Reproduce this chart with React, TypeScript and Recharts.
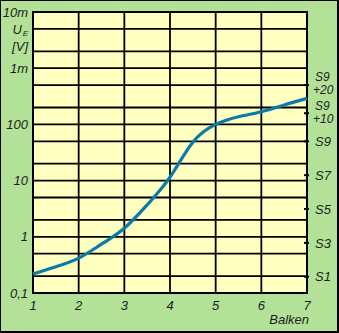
import React from "react";
import { LineChart, Line, XAxis, YAxis, ReferenceArea, ReferenceLine } from "recharts";

// Balken (bar count) vs. input voltage U_E, log scale in µV
const balken = [1, 1.5, 2, 2.5, 3, 3.5, 4, 4.5, 5, 5.5, 6, 6.5, 7];
const ue = [0.217, 0.293, 0.417, 0.74, 1.42, 3.7, 11.5, 48, 100, 137, 168, 221, 290];

const xTicks = [1, 2, 3, 4, 5, 6, 7];
const yTicks = [0.1, 1, 10, 100, 1000, 10000];
const yTickLabels = ["0,1", "1", "10", "100", "1m", "10m"];
const yGrid = [0.2, 0.5, 1, 2, 5, 10, 20, 50, 100, 200, 500, 1000, 2000, 5000];

// S-meter scale: S9 = 50 µV, one S-unit = 6 dB
const sTicks = [0.195, 0.39, 0.78, 1.56, 3.125, 6.25, 12.5, 25, 50, 158, 500];
const sLabels = ["S1", "", "S3", "", "S5", "", "S7", "", "S9", "S9|+10", "S9|+20"];

const data = balken.map((b, i) => ({ x: b, u: ue[i] }));

const FONT = '"Liberation Sans", Arial, sans-serif';
const TXT = "#1e1e1e";

function LeftTick(props: any) {
  const { x, y, payload } = props;
  const i = yTicks.indexOf(payload.value);
  return (
    <g fontFamily={FONT} fontStyle="italic" fontSize={13} fill={TXT}>
      <text x={x} y={y} dy="0.36em" textAnchor="end">
        {yTickLabels[i]}
      </text>
      {payload.value === 10000 && (
        <>
          <text x={x - 6} y={y + 17} dy="0.36em" textAnchor="end">
            U
          </text>
          <text x={x} y={y + 21} dy="0.36em" textAnchor="end" fontSize={8}>
            E
          </text>
          <text x={x} y={y + 34} dy="0.36em" textAnchor="end">
            [V]
          </text>
        </>
      )}
    </g>
  );
}

function RightTick(props: any) {
  const { x, y, payload } = props;
  const i = sTicks.indexOf(payload.value);
  const parts = (sLabels[i] || "").split("|");
  return (
    <g fontFamily={FONT} fontStyle="italic" fontSize={13} fill={TXT}>
      <line x1={x - 3} x2={x + 2} y1={y} y2={y} stroke="#000" strokeWidth={2} />
      {parts.length === 1 ? (
        <text x={x + 8} y={y} dy="0.36em">
          {parts[0]}
        </text>
      ) : (
        <g fontSize={12}>
          <text x={x + 8} y={y - 8} dy="0.36em">
            {parts[0]}
          </text>
          <text x={x + 6} y={y + 5} dy="0.36em">
            {parts[1]}
          </text>
        </g>
      )}
    </g>
  );
}

function BottomTick(props: any) {
  const { x, y, payload } = props;
  return (
    <text x={x} y={y + 11} textAnchor="middle" fontFamily={FONT} fontStyle="italic" fontSize={13} fill={TXT}>
      {payload.value}
    </text>
  );
}

export default function App() {
  return (
    <div
      style={{
        position: "absolute",
        left: 0,
        top: 0,
        width: 339,
        height: 333,
        boxSizing: "border-box",
        background: "#b2e197",
        borderStyle: "solid",
        borderColor: "#000",
        borderWidth: "1px 2px 2px 1px",
      }}
    >
      <div style={{ position: "absolute", left: -1, top: -1 }}>
        <LineChart width={339} height={333} data={data} margin={{ top: 12, right: 0, bottom: 10, left: 0 }}>
          <XAxis
            dataKey="x"
            type="number"
            domain={[1, 7]}
            ticks={xTicks}
            axisLine={false}
            tickLine={false}
            tickSize={0}
            tickMargin={6}
            height={30}
            tick={<BottomTick />}
            label={{
              value: "Balken",
              position: "insideBottomRight",
              content: (p: any) => (
                <text
                  x={p.viewBox.x + p.viewBox.width + 2}
                  y={p.viewBox.y + 31}
                  textAnchor="end"
                  fontFamily={FONT}
                  fontStyle="italic"
                  fontSize={13}
                  fill={TXT}
                >
                  Balken
                </text>
              ),
            }}
          />
          <YAxis
            yAxisId="u"
            scale="log"
            domain={[0.1, 10000]}
            allowDataOverflow
            ticks={yTicks}
            width={33}
            axisLine={false}
            tickLine={false}
            tickSize={0}
            tickMargin={5}
            tick={<LeftTick />}
          />
          <YAxis
            yAxisId="s"
            orientation="right"
            scale="log"
            domain={[0.1, 10000]}
            allowDataOverflow
            ticks={sTicks}
            width={32}
            axisLine={false}
            tickLine={false}
            tickSize={0}
            tickMargin={0}
            tick={<RightTick />}
          />
          <ReferenceArea yAxisId="u" x1={1} x2={7} y1={0.1} y2={10000} fill="#ffffc0" fillOpacity={1} stroke="none" />
          {yGrid.map((v) => (
            <ReferenceLine key={"h" + v} yAxisId="u" y={v} stroke="#000" strokeWidth={1.8} />
          ))}
          {xTicks.slice(1, -1).map((v) => (
            <ReferenceLine key={"v" + v} yAxisId="u" x={v} stroke="#000" strokeWidth={1.8} />
          ))}
          <ReferenceArea yAxisId="u" x1={1} x2={7} y1={0.1} y2={10000} fill="none" stroke="#000" strokeWidth={2} />
          <Line
            yAxisId="u"
            dataKey="u"
            type="natural"
            stroke="#0a7aa8"
            strokeWidth={3.2}
            dot={false}
            isAnimationActive={false}
          />
        </LineChart>
      </div>
    </div>
  );
}
